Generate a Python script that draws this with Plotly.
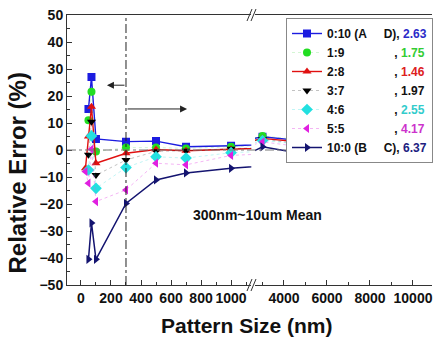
import plotly.graph_objects as go

# ---------------- data ----------------
x_left = [30, 50, 70, 100, 300, 500, 700, 1000]
x_right = [3000, 5000, 7000, 10000]

left_ticks = [0, 200, 400, 600, 800, 1000]
right_ticks = [4000, 6000, 8000, 10000]
right_tick_text = ["4000", "6000", "8000", "10000"]

ratio_labels = ["0:10 (A", "1:9", "2:8", "3:7", "4:6", "5:5", "10:0 (B"]
label_tails = ["D), ", ", ", ", ", ", ", ", ", ", ", "C), "]
label_gaps = [5, 15, 15, 15, 15, 15, 5]
mean_errors = ["2.63", "1.75", "1.46", "1.97", "2.55", "4.17", "6.37"]

err_0_10 = [None, 15.2, 27.0, 4.1, 3.1, 3.3, 1.2, 1.6, 4.9, 3.3, 2.5, 0.6]
err_1_9 = [None, 11.0, 21.6, -0.6, 0.9, 0.9, 0.6, 1.2, 5.2, 3.6, 2.8, 1.0]
err_2_8 = [-6.8, 5.0, 16.0, -4.9, -1.2, 0.2, -0.3, 0.3, 4.3, 2.8, 2.0, 0.0]
err_3_7 = [None, -1.8, 10.5, -9.3, -3.7, -0.5, -0.3, 0.5, 4.0, 2.0, 1.5, -0.5]
err_4_6 = [None, -7.4, 5.2, -14.2, -6.5, -2.5, -3.0, -1.0, 3.5, 2.0, 1.0, -1.0]
err_5_5 = [-8.0, -12.3, 0.3, -19.1, -14.8, -4.9, -5.5, -2.0, 3.0, 1.0, 0.5, -1.5]
err_10_0 = [None, -40.5, -27.0, -40.5, -19.8, -11.1, -8.5, -6.8, 1.2, -1.6, -0.6, -1.9]

series = [err_0_10, err_1_9, err_2_8, err_3_7, err_4_6, err_5_5, err_10_0]

# ---------------- styles ----------------
marker_colors = ["#1c1ce0", "#22dd22", "#e01010", "#000000", "#22e0e0", "#e020e0", "#141470"]
value_colors = ["#2a2ac8", "#33cc33", "#dd2020", "#111111", "#33cccc", "#cc33cc", "#202080"]
line_styles = [
    dict(color="#1c1ce0", width=1.4),
    dict(color="rgba(40,210,40,0.25)", width=0.8, dash="dot"),
    dict(color="#e01010", width=1.4),
    dict(color="rgba(0,0,0,0.3)", width=0.8, dash="dot"),
    dict(color="rgba(30,220,220,0.35)", width=0.8, dash="dot"),
    dict(color="rgba(230,90,230,0.5)", width=0.9, dash="dot"),
    dict(color="#141470", width=1.5),
]
symbols = ["square", "circle", "triangle-up", "triangle-down", "diamond", "triangle-left", "triangle-right"]

FONT = "Liberation Sans, Arial, sans-serif"
W, H = 433, 342
L, R, T, B = 67, 1, 15, 57
PW, PH = W - L - R, H - T - B


def px(xp):
    return (xp - L) / PW


def py(yp):
    return (H - B - yp) / PH


x_all = x_left + x_right
n_left = len(x_left)

fig = go.Figure()
for i, ys in enumerate(series):
    nb = "\u00a0" * label_gaps[i]
    name = (f"{ratio_labels[i]}{nb}{label_tails[i]}"
            f"<span style='color:{value_colors[i]}'>{mean_errors[i]}</span>")
    mk = dict(symbol=symbols[i], size=8 if symbols[i] != "diamond" else 9,
              color=marker_colors[i], line=dict(width=0))
    # left segment (continues toward the first right point, clipped by the axis)
    fig.add_trace(go.Scatter(
        x=x_all[:n_left + 1], y=ys[:n_left + 1], mode="lines+markers",
        name=name, legendgroup=str(i), line=line_styles[i], marker=mk,
        xaxis="x", yaxis="y"))
    # right segment (starts from the last left point, clipped by the axis)
    fig.add_trace(go.Scatter(
        x=x_all[n_left - 1:], y=ys[n_left - 1:], mode="lines+markers",
        name=name, legendgroup=str(i), showlegend=False, line=line_styles[i],
        marker=mk, xaxis="x2", yaxis="y"))

axis_font = dict(family=FONT, size=14, color="#111", weight="bold")
common_x = dict(showline=True, linecolor="#333", linewidth=1, mirror=True,
                ticks="inside", ticklen=5, tickcolor="#333", showgrid=False,
                zeroline=False, tickfont=axis_font, tickangle=0)

fig.update_layout(
    width=W, height=H,
    margin=dict(l=L, r=R, t=T, b=B, autoexpand=False),
    paper_bgcolor="white", plot_bgcolor="white",
    xaxis=dict(domain=[0, 0.505], range=[-93, 1135], tickvals=left_ticks,
               ticktext=[str(v) for v in left_ticks],
               minor=dict(ticks="inside", ticklen=3, dtick=100, tick0=0, tickcolor="#333"),
               anchor="y", **common_x),
    xaxis2=dict(domain=[0.515, 1], range=[2650, 10884], tickvals=right_ticks,
                ticktext=right_tick_text,
                minor=dict(ticks="inside", ticklen=3, dtick=1000, tick0=0, tickcolor="#333"),
                anchor="y", **common_x),
    yaxis=dict(range=[-50, 50], dtick=10, showline=True, linecolor="#333", linewidth=1,
               ticks="inside", ticklen=5, tickcolor="#333", showgrid=False, zeroline=False,
               minor=dict(ticks="inside", ticklen=3, dtick=5, tickcolor="#333"),
               tickfont=axis_font, anchor="x"),
    showlegend=True,
    legend=dict(x=px(286), y=py(18), xanchor="left", yanchor="top",
                bgcolor="white", bordercolor="#888", borderwidth=1,
                font=dict(family=FONT, size=12, color="#111", weight="bold"),
                tracegroupgap=0, itemwidth=30),
)

shapes = [
    # zero reference line
    dict(type="line", xref="paper", yref="y", x0=0, x1=1, y0=0, y1=0,
         line=dict(color="#777", width=1, dash="dashdot")),
    # 300 nm divider
    dict(type="line", xref="x", yref="paper", x0=300, x1=300, y0=0, y1=1,
         line=dict(color="#222", width=1, dash="dashdot")),
]
# axis break marks (bottom and top)
for yb in (H - B, T):
    for dx in (0, 4):
        shapes.append(dict(type="line", xref="paper", yref="paper",
                           x0=px(247 + dx), y0=py(yb + 6), x1=px(252 + dx), y1=py(yb - 6),
                           line=dict(color="#333", width=1)))
fig.update_layout(shapes=shapes)

annotations = [
    dict(text="Relative Error (%)", xref="paper", yref="paper", x=px(16.5), y=py(173),
         textangle=-90, showarrow=False, xanchor="center", yanchor="middle",
         font=dict(family=FONT, size=24, color="#111", weight="bold")),
    dict(text="Pattern Size (nm)", xref="paper", yref="paper", x=px(247), y=py(325),
         showarrow=False, xanchor="center", yanchor="middle",
         font=dict(family=FONT, size=21, color="#111", weight="bold")),
    dict(text="300nm~10um Mean", xref="paper", yref="paper", x=px(257), y=py(215),
         showarrow=False, xanchor="center", yanchor="middle",
         font=dict(family=FONT, size=14, color="#111", weight="bold")),
    dict(text="", x=173, y=24, ax=300, ay=24, xref="x", yref="y", axref="x", ayref="y",
         showarrow=True, arrowhead=2, arrowsize=1.4, arrowwidth=1, arrowcolor="#222"),
    dict(text="", x=707, y=15.2, ax=300, ay=15.2, xref="x", yref="y", axref="x", ayref="y",
         showarrow=True, arrowhead=2, arrowsize=1.4, arrowwidth=1, arrowcolor="#222"),
]
fig.update_layout(annotations=annotations)

fig.write_html(
    "out.html",
    config={"displayModeBar": False},
    post_script="document.body.style.margin='0';document.body.style.overflow='hidden';",
)
